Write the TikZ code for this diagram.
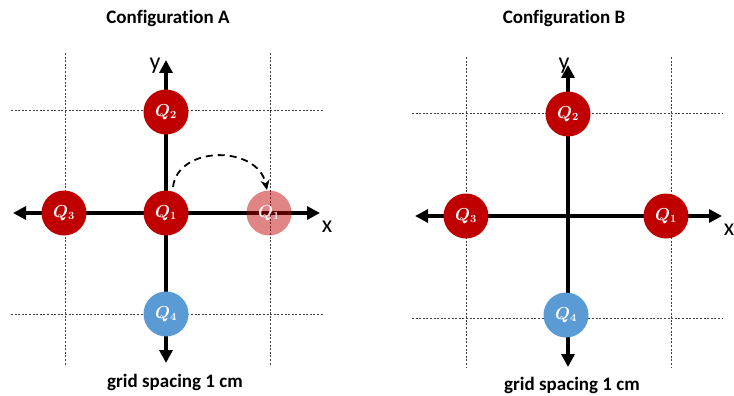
\documentclass[tikz,border=0pt]{standalone}
\usepackage{fontspec}
\setmainfont{Carlito}[Ligatures=NoCommon]
\usetikzlibrary{arrows.meta,calc}
\definecolor{qred}{HTML}{C00000}
\definecolor{qblue}{HTML}{5B9BD5}
\begin{document}
\begin{tikzpicture}[x=1pt,y=-1pt,
  gridline/.style={draw=black!75, dashed, dash pattern=on 2pt off 1.6pt, line width=0.6pt},
  axis/.style={line width=3.4pt, {Triangle[length=13pt,width=13pt]}-{Triangle[length=13pt,width=13pt]}},
  charge/.style={circle, minimum size=45pt, inner sep=0pt, text=white, font=\boldmath\fontsize{16}{16}\selectfont},
  red charge/.style={charge, fill=qred},
  ghost charge/.style={charge, fill=qred, fill opacity=0.48, text opacity=0.9},
  blue charge/.style={charge, fill=qblue},
  title/.style={font=\bfseries\fontsize{19}{21}\selectfont},
  caption/.style={font=\bfseries\fontsize{19}{21}\selectfont},
  axlabel/.style={font=\fontsize{24}{25}\selectfont}]
\useasboundingbox (0,0) rectangle (734,396);
\fill[white] (0,0) rectangle (734,396);

% ---------- Configuration A ----------
\node[title] (tA) at (168,18) {Configuration A};
\draw[gridline] (65,53) -- (65,365);
\draw[gridline] (270,53) -- (270,365);
\draw[gridline] (11,110) -- (323,110);
\draw[gridline] (11,314) -- (323,314);
\coordinate (axL) at (13,213);
\coordinate (axR) at (320,213);
\coordinate (ayT) at (166,60);
\coordinate (ayB) at (166,363);
\draw[axis] (axL) -- (axR);
\draw[axis] (ayB) -- (ayT);
\node[axlabel] (lyA) at (155,66) {y};
\node[axlabel] (lxA) at (327,227) {x};
\node[red charge] (q1a) at (166,213) {$Q_1$};
\node[red charge] (q2a) at (166,112) {$Q_2$};
\node[red charge] (q3a) at (64,213) {$Q_3$};
\node[blue charge] (q4a) at (166,314) {$Q_4$};
\node[ghost charge] (q1f) at (269,213) {$Q_1$};
\coordinate (arcS) at (173,187);
\coordinate (arcE) at (267,190);
\draw[dashed, dash pattern=on 7pt off 5pt, line width=1.8pt, -{Stealth[length=10pt,width=9pt]}]
  (arcS) .. controls (178,145) and (258,145) .. (arcE);
\node[caption] (gA) at (175,382) {grid spacing 1 cm};

% ---------- Configuration B ----------
\node[title] (tB) at (564,18) {Configuration B};
\draw[gridline] (466,57) -- (466,368);
\draw[gridline] (671,57) -- (671,368);
\draw[gridline] (412,113) -- (723,113);
\draw[gridline] (412,318) -- (723,318);
\coordinate (bxL) at (415,216);
\coordinate (bxR) at (722,216);
\coordinate (byT) at (568,65);
\coordinate (byB) at (568,367);
\draw[axis] (bxL) -- (bxR);
\draw[axis] (byB) -- (byT);
\node[axlabel] (lyB) at (564,66) {y};
\node[axlabel] (lxB) at (729,230) {x};
\node[red charge] (q1b) at (666,216) {$Q_1$};
\node[red charge] (q2b) at (568,114) {$Q_2$};
\node[red charge] (q3b) at (466,216) {$Q_3$};
\node[blue charge] (q4b) at (566,315) {$Q_4$};
\node[caption] (gB) at (572,385) {grid spacing 1 cm};
\end{tikzpicture}
\end{document}
